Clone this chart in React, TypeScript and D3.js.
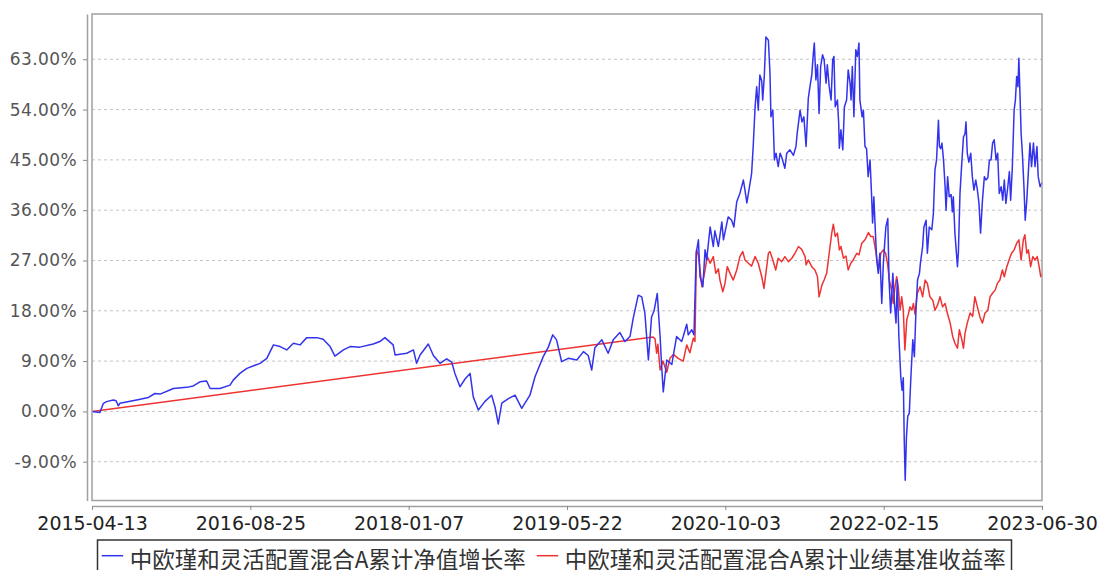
import { useEffect, useRef } from "react";
import * as d3 from "d3";

const WIDTH = 1100;
const HEIGHT = 570;
const PLOT = { left: 92, right: 1042, top: 14, bottom: 500.5 };

const START_DATE = "2015-04-13";
const X_TICKS = ["2015-04-13", "2016-08-25", "2018-01-07", "2019-05-22", "2020-10-03", "2022-02-15", "2023-06-30"];
const Y_TICKS = [-9, 0, 9, 18, 27, 36, 45, 54, 63];
const Y_DOMAIN = [-15.94, 71.1];

const SERIES_NAMES = ["中欧瑾和灵活配置混合A累计净值增长率", "中欧瑾和灵活配置混合A累计业绩基准收益率"];

// [days since 2015-04-13, cumulative %]
const navGrowth: [number, number][] = [
  [0, 0.0], [25, -0.2], [36, 1.45], [46, 1.75], [67, 2.05], [76, 1.9], [83, 1.0], [88, 1.45],
  [141, 2.05], [178, 2.5], [199, 3.2], [215, 3.1], [257, 4.1], [299, 4.3], [320, 4.55], [341, 5.3],
  [362, 5.45], [373, 4.1], [404, 4.1], [436, 4.7], [446, 5.6], [467, 6.8], [489, 7.7], [531, 8.6],
  [552, 9.5], [573, 11.9], [594, 11.6], [615, 11.0], [636, 12.2], [657, 11.9], [678, 13.2], [710, 13.2],
  [730, 12.9], [752, 11.6], [767, 9.9], [794, 11.0], [815, 11.6], [846, 11.5], [888, 12.05], [909, 12.5],
  [925, 13.2], [951, 11.9], [957, 10.1], [994, 10.4], [1015, 11.0], [1025, 8.6], [1036, 10.1], [1062, 12.05],
  [1078, 10.0], [1099, 8.6], [1120, 9.4], [1136, 8.8], [1146, 6.8], [1162, 4.4], [1178, 5.8], [1194, 6.8],
  [1204, 2.6], [1220, 0.25], [1241, 1.8], [1262, 2.9], [1273, 0.7], [1283, -2.25], [1294, 1.5], [1315, 2.3],
  [1336, 2.9], [1357, 0.55], [1383, 2.9], [1399, 6.2], [1425, 9.8], [1441, 11.5], [1455, 13.7], [1467, 12.8],
  [1483, 8.9], [1504, 9.5], [1531, 9.2], [1552, 10.7], [1567, 10.0], [1578, 7.4], [1588, 11.4], [1610, 12.8],
  [1630, 10.4], [1646, 12.8], [1667, 14.1], [1683, 12.5], [1699, 13.4], [1709, 16.65], [1725, 20.8], [1736, 20.5],
  [1746, 17.55], [1757, 9.2], [1767, 16.9], [1775, 18.0], [1785, 21.1], [1794, 13.4], [1799, 8.0], [1804, 3.5],
  [1815, 9.2], [1831, 8.4], [1846, 13.4], [1862, 12.5], [1867, 13.4], [1878, 15.6], [1883, 13.7], [1894, 14.6],
  [1901, 13.7], [1908, 28.3], [1915, 30.7], [1920, 24.1], [1929, 22.3], [1936, 28.9], [1941, 27.1], [1952, 33.0],
  [1962, 29.5], [1967, 32.3], [1978, 29.5], [1989, 33.9], [1994, 30.7], [2009, 34.8], [2020, 34.2], [2027, 33.0],
  [2036, 37.5], [2046, 39.0], [2057, 41.4], [2062, 39.6], [2068, 37.3], [2078, 40.8], [2083, 42.6], [2088, 47.4],
  [2094, 54.5], [2099, 58.1], [2104, 53.9], [2109, 60.2], [2115, 59.1], [2118, 55.7], [2123, 59.9], [2128, 67.0],
  [2136, 66.4], [2141, 60.5], [2144, 52.7], [2150, 53.9], [2155, 45.0], [2160, 46.2], [2167, 43.8], [2173, 46.2],
  [2178, 45.5], [2188, 43.5], [2194, 46.2], [2204, 46.8], [2215, 45.8], [2223, 47.4], [2227, 49.8], [2236, 53.9],
  [2242, 51.8], [2248, 52.7], [2255, 47.4], [2262, 56.0], [2267, 58.0], [2273, 60.2], [2278, 64.1], [2281, 65.9],
  [2286, 59.3], [2291, 62.0], [2296, 53.3], [2301, 61.7], [2307, 63.8], [2312, 62.9], [2318, 58.7], [2322, 62.0],
  [2328, 58.1], [2334, 55.7], [2339, 62.9], [2343, 63.5], [2347, 54.5], [2354, 55.7], [2358, 51.5], [2360, 47.1],
  [2365, 50.4], [2371, 46.8], [2376, 54.5], [2383, 55.7], [2388, 61.1], [2394, 58.7], [2397, 55.7], [2401, 61.7],
  [2406, 52.7], [2412, 64.7], [2417, 63.5], [2422, 65.9], [2425, 55.7], [2432, 52.7], [2436, 53.9], [2441, 47.4],
  [2446, 47.0], [2451, 42.0], [2457, 45.0], [2462, 38.4], [2465, 33.7], [2469, 38.4], [2474, 31.9], [2478, 27.1],
  [2483, 24.7], [2488, 28.3], [2494, 19.3], [2499, 26.5], [2504, 30.7], [2507, 33.0], [2513, 34.5], [2517, 23.5],
  [2522, 17.6], [2529, 24.7], [2534, 19.3], [2539, 15.8], [2543, 23.5], [2548, 13.4], [2554, 6.2], [2558, 3.8],
  [2562, 6.0], [2565, -5.1], [2568, -12.3], [2572, -4.5], [2576, -0.9], [2581, -0.3], [2586, 6.2], [2592, 12.8],
  [2597, 9.8], [2602, 18.1], [2607, 23.5], [2613, 24.7], [2616, 26.5], [2623, 29.5], [2627, 33.0], [2634, 34.2],
  [2638, 28.3], [2644, 33.0], [2652, 32.5], [2657, 35.4], [2662, 43.2], [2667, 45.0], [2673, 52.1], [2676, 47.4],
  [2680, 47.0], [2684, 48.0], [2689, 45.0], [2694, 40.2], [2697, 36.0], [2702, 42.0], [2707, 38.4], [2713, 38.8],
  [2717, 35.7], [2720, 38.4], [2725, 31.9], [2733, 25.9], [2736, 28.5], [2741, 39.0], [2746, 43.8], [2752, 49.1],
  [2757, 49.7], [2760, 51.8], [2764, 46.2], [2769, 44.6], [2775, 46.2], [2780, 42.0], [2785, 39.6], [2791, 41.4],
  [2796, 39.6], [2801, 37.2], [2806, 31.9], [2812, 37.8], [2818, 42.0], [2823, 41.4], [2829, 41.8], [2834, 45.0],
  [2839, 45.0], [2844, 48.0], [2849, 48.6], [2855, 45.0], [2860, 46.2], [2865, 39.0], [2871, 40.2], [2876, 37.8],
  [2881, 41.4], [2886, 37.2], [2892, 40.2], [2897, 42.9], [2901, 37.8], [2906, 43.2], [2912, 53.9], [2916, 55.7],
  [2920, 59.9], [2924, 58.1], [2927, 63.2], [2931, 55.7], [2934, 49.8], [2938, 46.2], [2943, 40.2], [2947, 34.2],
  [2952, 37.8], [2957, 42.9], [2962, 48.0], [2967, 43.8], [2973, 48.0], [2978, 43.8], [2984, 47.4], [2988, 42.0],
  [2994, 40.2], [3000, 41.0],
];

const benchmark: [number, number][] = [
  [0, 0.0], [1772, 13.3], [1778, 13.0], [1783, 10.4], [1787, 12.0], [1794, 7.4], [1803, 9.0], [1815, 7.0],
  [1825, 9.5], [1836, 10.2], [1851, 9.5], [1867, 9.0], [1878, 11.9], [1888, 10.5], [1899, 13.1], [1904, 12.5],
  [1909, 28.9], [1915, 28.0], [1926, 22.3], [1936, 25.3], [1943, 27.7], [1952, 26.5], [1962, 27.7], [1970, 24.7],
  [1978, 25.5], [1983, 23.5], [1992, 21.4], [1999, 22.9], [2006, 25.9], [2015, 24.7], [2025, 23.5], [2036, 25.3],
  [2046, 27.7], [2055, 28.6], [2062, 27.1], [2073, 26.5], [2083, 26.0], [2094, 27.7], [2104, 26.5], [2115, 24.1],
  [2122, 22.0], [2128, 24.7], [2136, 28.3], [2141, 28.6], [2150, 27.1], [2159, 25.3], [2167, 27.4], [2178, 26.8],
  [2188, 27.7], [2199, 26.8], [2210, 27.4], [2220, 28.3], [2231, 29.5], [2241, 29.0], [2252, 27.7], [2255, 26.2],
  [2262, 27.1], [2273, 25.9], [2283, 25.3], [2291, 24.1], [2296, 20.5], [2305, 22.6], [2312, 23.5], [2320, 24.7],
  [2328, 28.3], [2336, 31.9], [2341, 33.5], [2347, 31.3], [2354, 31.9], [2360, 28.9], [2365, 29.5], [2373, 27.4],
  [2381, 27.8], [2388, 25.3], [2396, 26.5], [2404, 27.1], [2415, 28.3], [2422, 28.0], [2431, 30.1], [2441, 30.7],
  [2452, 32.0], [2459, 31.3], [2467, 31.3], [2476, 28.3], [2483, 25.3], [2491, 28.3], [2499, 28.9], [2506, 28.3],
  [2512, 26.5], [2518, 23.5], [2525, 21.7], [2530, 19.3], [2536, 22.3], [2541, 24.1], [2546, 22.3], [2552, 18.1],
  [2557, 20.5], [2562, 18.1], [2567, 11.0], [2573, 16.4], [2578, 17.4], [2583, 18.7], [2589, 18.1], [2594, 19.3],
  [2599, 17.4], [2606, 21.1], [2615, 22.3], [2623, 20.5], [2631, 23.5], [2638, 22.9], [2646, 20.5], [2655, 19.9],
  [2662, 18.1], [2670, 19.0], [2678, 20.5], [2686, 18.7], [2694, 19.3], [2701, 17.6], [2710, 15.8], [2718, 13.4],
  [2725, 12.2], [2733, 11.3], [2739, 14.6], [2747, 12.8], [2752, 11.3], [2757, 14.0], [2764, 15.8], [2773, 17.6],
  [2781, 17.0], [2788, 20.5], [2796, 18.7], [2804, 16.9], [2812, 15.8], [2820, 17.6], [2829, 18.1], [2836, 20.5],
  [2843, 21.1], [2852, 21.7], [2859, 22.9], [2867, 23.5], [2875, 25.3], [2881, 24.1], [2889, 25.9], [2896, 27.1],
  [2904, 28.3], [2912, 28.9], [2920, 30.1], [2927, 30.7], [2934, 27.1], [2941, 30.7], [2946, 31.6], [2952, 28.3],
  [2957, 28.9], [2964, 25.9], [2971, 27.7], [2978, 27.1], [2985, 27.7], [2991, 25.9], [2996, 24.1], [3000, 24.5],
];

const BLUE = "#3333ee";
const RED = "#ee3333";

export default function App() {
  const svgRef = useRef<SVGSVGElement>(null);

  useEffect(() => {
    if (!svgRef.current) return;
    const svg = d3.select(svgRef.current);
    svg.selectAll("*").remove();

    const parse = d3.utcParse("%Y-%m-%d");
    const start = parse(START_DATE) as Date;
    const tickDates = X_TICKS.map((t) => parse(t) as Date);

    const x = d3.scaleUtc().domain([tickDates[0], tickDates[tickDates.length - 1]]).range([PLOT.left, PLOT.right]);
    const y = d3.scaleLinear().domain(Y_DOMAIN).range([PLOT.bottom, PLOT.top]);

    const toDate = (d: number) => d3.utcDay.offset(start, d);

    // grid
    svg.append("g")
      .selectAll("line")
      .data(Y_TICKS)
      .join("line")
      .attr("x1", PLOT.left)
      .attr("x2", PLOT.right)
      .attr("y1", (d) => y(d))
      .attr("y2", (d) => y(d))
      .attr("stroke", "#c4c4c4")
      .attr("stroke-width", 1)
      .attr("stroke-dasharray", "3,3");

    // lines
    const line = d3.line<[number, number]>()
      .x((d) => x(toDate(d[0])))
      .y((d) => y(d[1]));

    svg.append("path")
      .datum(benchmark)
      .attr("fill", "none")
      .attr("stroke", RED)
      .attr("stroke-width", 1.5)
      .attr("stroke-linejoin", "round")
      .attr("d", line);

    svg.append("path")
      .datum(navGrowth)
      .attr("fill", "none")
      .attr("stroke", BLUE)
      .attr("stroke-width", 1.5)
      .attr("stroke-linejoin", "round")
      .attr("d", line);

    // plot frame
    svg.append("rect")
      .attr("x", PLOT.left)
      .attr("y", PLOT.top)
      .attr("width", PLOT.right - PLOT.left)
      .attr("height", PLOT.bottom - PLOT.top)
      .attr("fill", "none")
      .attr("stroke", "#a0a0a0")
      .attr("stroke-width", 1.5);

    // y axis
    const yAxis = svg.append("g")
      .attr("transform", `translate(87,0)`)
      .call(d3.axisLeft(y).tickValues(Y_TICKS).tickSize(4).tickSizeOuter(0).tickPadding(6)
        .tickFormat((d) => `${(+d).toFixed(2)}%`));
    yAxis.select(".domain").attr("stroke", "#a0a0a0").attr("stroke-width", 1.5);
    yAxis.selectAll(".tick line").attr("stroke", "#888");
    yAxis.selectAll("text")
      .attr("fill", "#555")
      .style("font-family", "'DejaVu Sans', sans-serif")
      .style("font-size", "17px")
      .style("letter-spacing", "0.4px");

    // x axis
    const xAxis = svg.append("g")
      .attr("transform", `translate(0,506)`)
      .call(d3.axisBottom(x).tickValues(tickDates).tickSize(4).tickSizeOuter(0).tickPadding(7)
        .tickFormat((d, i) => X_TICKS[i]));
    xAxis.select(".domain").attr("stroke", "#a0a0a0").attr("stroke-width", 1.5);
    xAxis.selectAll(".tick line").attr("stroke", "#888");
    xAxis.selectAll("text")
      .attr("fill", "#222")
      .style("font-family", "'DejaVu Sans', sans-serif")
      .style("font-size", "19px");

    // legend
    const lg = svg.append("g");
    lg.append("rect")
      .attr("x", 97.5)
      .attr("y", 540)
      .attr("width", 914)
      .attr("height", 40)
      .attr("fill", "white")
      .attr("stroke", "#333")
      .attr("stroke-width", 1.5);
    const items = [
      { name: SERIES_NAMES[0], color: BLUE, x0: 101.7 },
      { name: SERIES_NAMES[1], color: RED, x0: 536.7 },
    ];
    items.forEach((it) => {
      lg.append("line")
        .attr("x1", it.x0)
        .attr("x2", it.x0 + 21.5)
        .attr("y1", 555.7)
        .attr("y2", 555.7)
        .attr("stroke", it.color)
        .attr("stroke-width", 1.5);
      lg.append("text")
        .attr("x", it.x0 + 28)
        .attr("y", 557.5)
        .attr("dominant-baseline", "central")
        .attr("fill", "#333")
        .style("font-family", "'Noto Sans CJK SC', sans-serif")
        .style("font-size", "22.5px")
        .text(it.name);
    });
  }, []);

  return (
    <svg
      ref={svgRef}
      width={WIDTH}
      height={HEIGHT}
      style={{ position: "absolute", left: 0, top: 0, display: "block", background: "white" }}
    />
  );
}
